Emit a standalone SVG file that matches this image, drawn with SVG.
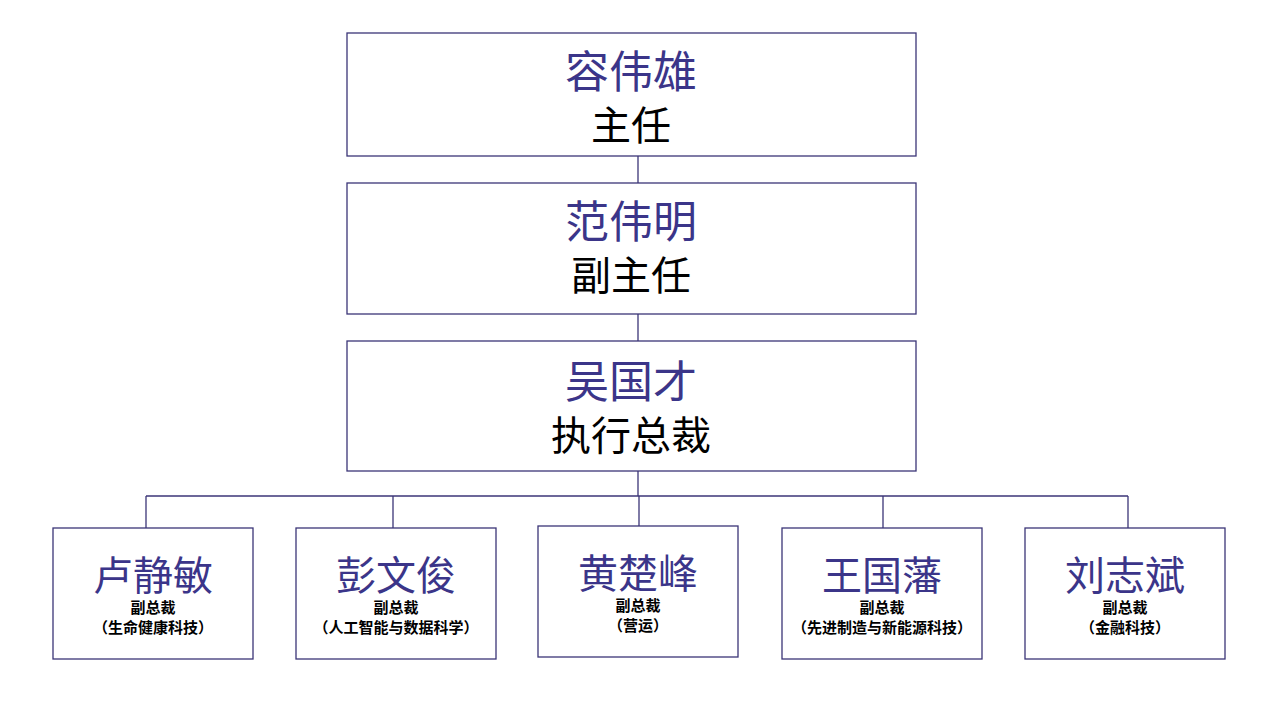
<svg xmlns="http://www.w3.org/2000/svg" width="1280" height="720" viewBox="0 0 1280 720">
<style>
rect{fill:#fff;stroke:#3b3577;stroke-width:1.3}
.c line{stroke:#3b3577;stroke-width:1.3}
text{font-family:"Liberation Sans","Noto Sans CJK SC",sans-serif;text-anchor:middle}
.n{fill:#3b3589;font-size:44px}
.t{fill:#000;font-size:40px}
.bn{fill:#3b3589;font-size:40px}
.s{fill:#000;font-size:15px;font-weight:bold}
</style>
<rect x="0" y="0" width="1280" height="720" style="stroke:none"/>
<g class="c">
<line x1="638" y1="156" x2="638" y2="183"/>
<line x1="638" y1="314" x2="638" y2="341"/>
<line x1="638" y1="471" x2="638" y2="496"/>
<line x1="146" y1="496" x2="1128" y2="496"/>
<line x1="146" y1="496" x2="146" y2="528"/>
<line x1="393" y1="496" x2="393" y2="528"/>
<line x1="639" y1="496" x2="639" y2="526"/>
<line x1="883" y1="496" x2="883" y2="528"/>
<line x1="1128" y1="496" x2="1128" y2="528"/>
</g>
<g id="n1"><rect x="347" y="33" width="569" height="123"/><text class="n" x="631" y="88">容伟雄</text><text class="t" x="631" y="140">主任</text></g>
<g id="n2"><rect x="347" y="183" width="569" height="131"/><text class="n" x="631" y="238">范伟明</text><text class="t" x="631" y="290">副主任</text></g>
<g id="n3"><rect x="347" y="341" width="569" height="130"/><text class="n" x="631" y="398">吴国才</text><text class="t" x="631" y="450">执行总裁</text></g>
<g id="n4"><rect x="53" y="528" width="200" height="131"/><text class="bn" x="153" y="590">卢静敏</text><text class="s" x="153" y="613">副总裁</text><text class="s" x="153" y="633">（生命健康科技）</text></g>
<g id="n5"><rect x="296" y="528" width="200" height="131"/><text class="bn" x="396" y="590">彭文俊</text><text class="s" x="396" y="613">副总裁</text><text class="s" x="396" y="633">（人工智能与数据科学）</text></g>
<g id="n6"><rect x="538" y="526" width="200" height="131"/><text class="bn" x="638" y="588">黄楚峰</text><text class="s" x="638" y="611">副总裁</text><text class="s" x="638" y="631">（营运）</text></g>
<g id="n7"><rect x="782" y="528" width="200" height="131"/><text class="bn" x="882" y="590">王国藩</text><text class="s" x="882" y="613">副总裁</text><text class="s" x="882" y="633">（先进制造与新能源科技）</text></g>
<g id="n8"><rect x="1025" y="528" width="200" height="131"/><text class="bn" x="1125" y="590">刘志斌</text><text class="s" x="1125" y="613">副总裁</text><text class="s" x="1125" y="633">（金融科技）</text></g>
</svg>
